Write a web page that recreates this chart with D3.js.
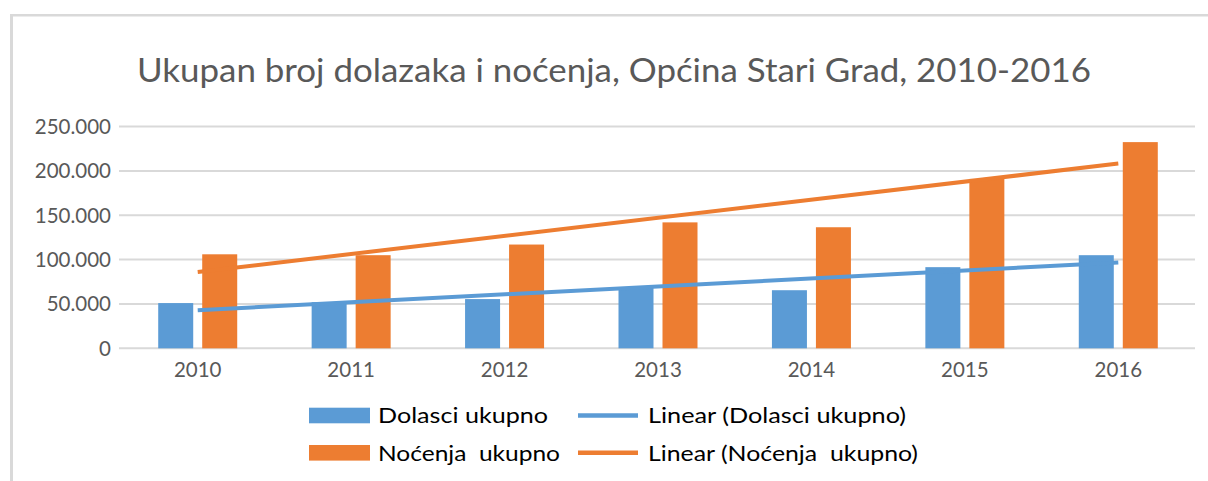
<!DOCTYPE html>
<html>
<head>
<meta charset="utf-8">
<script src="https://cdn.jsdelivr.net/npm/d3@7"></script>
<style>
  html, body { margin: 0; padding: 0; background: #fff; }
  svg { display: block; }
  text { font-family: Lato, "Open Sans", sans-serif; }
</style>
</head>
<body>
<svg id="chart" width="1208" height="481"></svg>
<script>
const years = ["2010", "2011", "2012", "2013", "2014", "2015", "2016"];
const dolasci = [51000, 52000, 55500, 68000, 65500, 91500, 105000];
const nocenja = [106000, 105000, 117000, 142000, 136500, 191000, 232500];
const seriesNames = ["Dolasci ukupno", "Noćenja  ukupno"];
const trendNames = ["Linear (Dolasci ukupno)", "Linear (Noćenja  ukupno)"];
const yTicks = [0, 50000, 100000, 150000, 200000, 250000];
const yTickLabels = ["0", "50.000", "100.000", "150.000", "200.000", "250.000"];
const titleText = "Ukupan broj dolazaka i noćenja, Općina Stari Grad, 2010-2016";

const colors = ["#5b9bd5", "#ed7d31"];
const svg = d3.select("#chart");

// border
svg.append("line").attr("x1", 11.5).attr("x2", 11.5).attr("y1", 14).attr("y2", 481)
  .attr("stroke", "#d9d9d9").attr("stroke-width", 3);
svg.append("line").attr("x1", 10).attr("x2", 1208).attr("y1", 15.3).attr("y2", 15.3)
  .attr("stroke", "#d9d9d9").attr("stroke-width", 2.6);

// title
svg.append("text").attr("x", 137).attr("y", 82)
  .attr("font-size", 33.5).attr("fill", "#595959")
  .attr("textLength", 954).attr("lengthAdjust", "spacingAndGlyphs")
  .text(titleText);

const x = d3.scaleBand().domain(years).range([121, 1195]).padding(0);
const xs = d3.scaleBand().domain([0, 1]).range([-39.5, 39.5]).paddingInner(0.2045).paddingOuter(0);
const y = d3.scaleLinear().domain([0, 250000]).range([348.3, 126.6]);

// gridlines
svg.append("g").selectAll("line").data(yTicks).join("line")
  .attr("x1", 119).attr("x2", 1195)
  .attr("y1", d => y(d)).attr("y2", d => y(d))
  .attr("stroke", "#d9d9d9").attr("stroke-width", 2);

// y axis labels
svg.append("g").selectAll("text").data(yTicks).join("text")
  .attr("x", 111).attr("y", d => y(d) + 7.4)
  .attr("text-anchor", "end").attr("font-size", 20.5).attr("fill", "#595959")
  .text((d, i) => yTickLabels[i]);

// x axis labels
svg.append("g").selectAll("text").data(years).join("text")
  .attr("x", d => x(d) + x.bandwidth() / 2).attr("y", 377.3)
  .attr("text-anchor", "middle").attr("font-size", 20.5).attr("fill", "#595959")
  .text(d => d);

// bars
const allSeries = [dolasci, nocenja];
allSeries.forEach((vals, si) => {
  svg.append("g").selectAll("rect").data(vals).join("rect")
    .attr("x", (d, i) => x(years[i]) + x.bandwidth() / 2 + xs(si))
    .attr("width", xs.bandwidth())
    .attr("y", d => y(d))
    .attr("height", d => y(0) - y(d))
    .attr("fill", colors[si]);
});

// linear trendlines (least squares)
function regress(vals) {
  const n = vals.length;
  const xm = (n - 1) / 2;
  const ym = d3.mean(vals);
  let sxy = 0, sxx = 0;
  vals.forEach((v, i) => { sxy += (i - xm) * (v - ym); sxx += (i - xm) * (i - xm); });
  const b = sxy / sxx;
  return i => ym + b * (i - xm);
}
allSeries.forEach((vals, si) => {
  const f = regress(vals);
  const pts = [0, years.length - 1].map(i => [x(years[i]) + x.bandwidth() / 2, y(f(i))]);
  svg.append("path").attr("d", d3.line()(pts))
    .attr("stroke", colors[si]).attr("stroke-width", 4).attr("fill", "none");
});

// legend
const legRows = [415.5, 452.8];
const legTextLen = [170, 182];
const trendTextLen = [258, 270];
legRows.forEach((ly, i) => {
  svg.append("rect").attr("x", 309).attr("y", ly - 7.8).attr("width", 61).attr("height", 15.6)
    .attr("fill", colors[i]);
  svg.append("text").attr("x", 378).attr("y", ly + 7.8)
    .attr("font-size", 20.5).attr("fill", "#000")
    .style("white-space", "pre")
    .attr("textLength", legTextLen[i]).attr("lengthAdjust", "spacingAndGlyphs")
    .text(seriesNames[i]);
  svg.append("line").attr("x1", 578).attr("x2", 638).attr("y1", ly).attr("y2", ly)
    .attr("stroke", colors[i]).attr("stroke-width", 4.5);
  svg.append("text").attr("x", 648).attr("y", ly + 7.8)
    .attr("font-size", 20.5).attr("fill", "#000")
    .style("white-space", "pre")
    .attr("textLength", trendTextLen[i]).attr("lengthAdjust", "spacingAndGlyphs")
    .text(trendNames[i]);
});
</script>
</body>
</html>
